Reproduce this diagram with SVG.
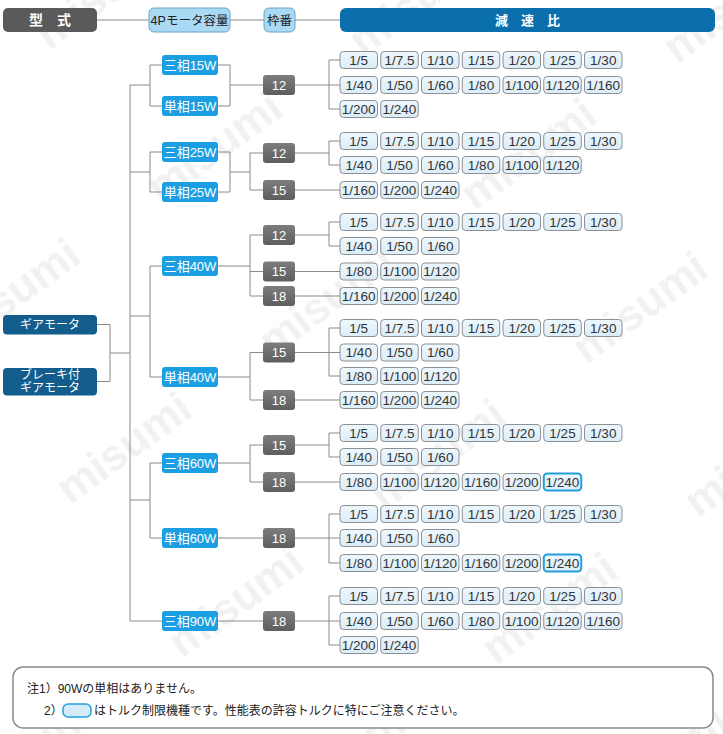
<svg xmlns="http://www.w3.org/2000/svg" width="723" height="734" viewBox="0 0 723 734">
<style>
text{font-family:"Liberation Sans","Noto Sans CJK JP",sans-serif}
.ln{fill:none;stroke:#8a8a8a;stroke-width:1}
.rb{fill:url(#gr);stroke:#8c9094;stroke-width:1}
.hl{fill:url(#gr);stroke:#22a0dc;stroke-width:2}
.rt{font-size:13.5px;fill:#333;text-anchor:middle}
.mb{fill:#1b9fe2}
.mt{font-size:13px;fill:#fff;text-anchor:middle}
.fb{fill:url(#gf)}
.ft{font-size:13px;fill:#fff;text-anchor:middle}
.lb{fill:#125d8c}
.lt{font-size:12px;fill:#fff;text-anchor:middle}
.hb{fill:#aad9f3;stroke:#6aa6c6;stroke-width:1}
.ht{font-size:12.5px;fill:#222;text-anchor:middle}
.nt{font-size:12px;fill:#222}
</style>
<defs>
<linearGradient id="gr" x1="0" y1="0" x2="0" y2="1"><stop offset="0" stop-color="#eef7fd"/><stop offset="1" stop-color="#dbedf8"/></linearGradient>
<linearGradient id="gf" x1="0" y1="0" x2="0" y2="1"><stop offset="0" stop-color="#7d7d7d"/><stop offset="1" stop-color="#5e5e5e"/></linearGradient>
<pattern id="wm" width="250" height="190" patternUnits="userSpaceOnUse" patternTransform="rotate(-36)">
<text x="10" y="70" font-size="44" font-weight="bold" fill="#000" fill-opacity="0.055">misumi</text>
</pattern>
</defs>
<rect width="723" height="734" fill="#fff"/>
<rect width="723" height="734" fill="url(#wm)"/>

<g id="connectors">
<path class="ln" d="M97,20H149M230,20H264M295,20H340"/>
<path class="ln" d="M97,324.5H110M97,381.5H110M110,324.5V381.5M110,353H130M130,85V621"/>
<path class="ln" d="M130,85H150M150,65V106M150,65H162M150,106H162M218,65H230M218,106H230M230,65V106M230,85H263M295,85H329M329,60V109M329,60H340M329,85H340M329,109H340"/>
<path class="ln" d="M130,172H150M150,152V192M150,152H162M150,192H162M218,152H230M218,192H230M230,152V192M230,172H250M250,153V190M250,153H263M250,190H263M295,153H329M329,141V165M329,141H340M329,165H340M295,190H340"/>
<path class="ln" d="M130,316H150M150,266V377M150,266H162M150,377H162"/>
<path class="ln" d="M218,266H250M250,235V296M250,235H263M250,271.5H263M250,296H263M295,235H329M329,222V246M329,222H340M329,246H340M295,271.5H340M295,296H340"/>
<path class="ln" d="M218,377H250M250,352.5V400M250,352.5H263M250,400H263M295,352.5H329M329,328V376M329,328H340M329,352.5H340M329,376H340M295,400H340"/>
<path class="ln" d="M130,500H150M150,463V538M150,463H162M150,538H162"/>
<path class="ln" d="M218,463H250M250,445V482M250,445H263M250,482H263M295,445H329M329,433V457M329,433H340M329,457H340M295,482H340"/>
<path class="ln" d="M218,538H263M295,538H329M329,514V563M329,514H340M329,538H340M329,563H340"/>
<path class="ln" d="M130,621H162M218,621H263M295,621H329M329,596V645M329,596H340M329,621H340M329,645H340"/>
</g>

<g id="h-type"><rect x="3" y="8" width="94" height="24" rx="5" fill="#5a5a5a"/><text x="50" y="25" font-size="14" font-weight="bold" fill="#fff" text-anchor="middle">型　式</text></g>
<g id="h-cap"><rect class="hb" x="149" y="8" width="81" height="24" rx="5"/><text class="ht" x="189.5" y="24.5">4Pモータ容量</text></g>
<g id="h-frame"><rect class="hb" x="264" y="8" width="31" height="24" rx="5"/><text class="ht" x="279.5" y="24.5">枠番</text></g>
<g id="h-ratio"><rect x="340" y="8" width="375" height="24" rx="6" fill="#0b6fae"/><text x="527.5" y="25" font-size="13" font-weight="bold" fill="#fff" text-anchor="middle">減　速　比</text></g>

<g id="gear"><rect class="lb" x="3" y="315" width="94" height="19.5" rx="4"/><text class="lt" x="50" y="329">ギアモータ</text></g>
<g id="brake"><rect class="lb" x="3" y="368" width="94" height="27.5" rx="4"/><text class="lt" x="50" y="379">ブレーキ付</text><text class="lt" x="50" y="392">ギアモータ</text></g>

<g id="m-3-15"><rect class="mb" x="162" y="55" width="56" height="20" rx="3"/><text class="mt" x="190" y="69.5">三相15W</text></g>
<g id="m-1-15"><rect class="mb" x="162" y="96" width="56" height="20" rx="3"/><text class="mt" x="190" y="110.5">単相15W</text></g>
<g id="m-3-25"><rect class="mb" x="162" y="142" width="56" height="20" rx="3"/><text class="mt" x="190" y="156.5">三相25W</text></g>
<g id="m-1-25"><rect class="mb" x="162" y="182" width="56" height="20" rx="3"/><text class="mt" x="190" y="196.5">単相25W</text></g>
<g id="m-3-40"><rect class="mb" x="162" y="256" width="56" height="20" rx="3"/><text class="mt" x="190" y="270.5">三相40W</text></g>
<g id="m-1-40"><rect class="mb" x="162" y="367" width="56" height="20" rx="3"/><text class="mt" x="190" y="381.5">単相40W</text></g>
<g id="m-3-60"><rect class="mb" x="162" y="453" width="56" height="20" rx="3"/><text class="mt" x="190" y="467.5">三相60W</text></g>
<g id="m-1-60"><rect class="mb" x="162" y="528" width="56" height="20" rx="3"/><text class="mt" x="190" y="542.5">単相60W</text></g>
<g id="m-3-90"><rect class="mb" x="162" y="611" width="56" height="20" rx="3"/><text class="mt" x="190" y="625.5">三相90W</text></g>

<g id="f-15-12"><rect class="fb" x="263" y="75" width="32" height="20" rx="3"/><text class="ft" x="279" y="89.5">12</text></g>
<g id="f-25-12"><rect class="fb" x="263" y="143" width="32" height="20" rx="3"/><text class="ft" x="279" y="157.5">12</text></g>
<g id="f-25-15"><rect class="fb" x="263" y="180" width="32" height="20" rx="3"/><text class="ft" x="279" y="194.5">15</text></g>
<g id="f-340-12"><rect class="fb" x="263" y="225" width="32" height="20" rx="3"/><text class="ft" x="279" y="239.5">12</text></g>
<g id="f-340-15"><rect class="fb" x="263" y="261.5" width="32" height="20" rx="3"/><text class="ft" x="279" y="276">15</text></g>
<g id="f-340-18"><rect class="fb" x="263" y="286" width="32" height="20" rx="3"/><text class="ft" x="279" y="300.5">18</text></g>
<g id="f-140-15"><rect class="fb" x="263" y="342.5" width="32" height="20" rx="3"/><text class="ft" x="279" y="357">15</text></g>
<g id="f-140-18"><rect class="fb" x="263" y="390" width="32" height="20" rx="3"/><text class="ft" x="279" y="404.5">18</text></g>
<g id="f-360-15"><rect class="fb" x="263" y="435" width="32" height="20" rx="3"/><text class="ft" x="279" y="449.5">15</text></g>
<g id="f-360-18"><rect class="fb" x="263" y="472" width="32" height="20" rx="3"/><text class="ft" x="279" y="486.5">18</text></g>
<g id="f-160-18"><rect class="fb" x="263" y="528" width="32" height="20" rx="3"/><text class="ft" x="279" y="542.5">18</text></g>
<g id="f-390-18"><rect class="fb" x="263" y="611" width="32" height="20" rx="3"/><text class="ft" x="279" y="625.5">18</text></g>

<g id="r1-1" transform="translate(340,51.5)"><rect class="rb" width="37.5" height="17" rx="3.5"/><text class="rt" x="18.75" y="13.2">1/5</text></g>
<g id="r1-2" transform="translate(380.75,51.5)"><rect class="rb" width="37.5" height="17" rx="3.5"/><text class="rt" x="18.75" y="13.2">1/7.5</text></g>
<g id="r1-3" transform="translate(421.5,51.5)"><rect class="rb" width="37.5" height="17" rx="3.5"/><text class="rt" x="18.75" y="13.2">1/10</text></g>
<g id="r1-4" transform="translate(462.25,51.5)"><rect class="rb" width="37.5" height="17" rx="3.5"/><text class="rt" x="18.75" y="13.2">1/15</text></g>
<g id="r1-5" transform="translate(503,51.5)"><rect class="rb" width="37.5" height="17" rx="3.5"/><text class="rt" x="18.75" y="13.2">1/20</text></g>
<g id="r1-6" transform="translate(543.75,51.5)"><rect class="rb" width="37.5" height="17" rx="3.5"/><text class="rt" x="18.75" y="13.2">1/25</text></g>
<g id="r1-7" transform="translate(584.5,51.5)"><rect class="rb" width="37.5" height="17" rx="3.5"/><text class="rt" x="18.75" y="13.2">1/30</text></g>

<g id="r2-1" transform="translate(340,76.5)"><rect class="rb" width="37.5" height="17" rx="3.5"/><text class="rt" x="18.75" y="13.2">1/40</text></g>
<g id="r2-2" transform="translate(380.75,76.5)"><rect class="rb" width="37.5" height="17" rx="3.5"/><text class="rt" x="18.75" y="13.2">1/50</text></g>
<g id="r2-3" transform="translate(421.5,76.5)"><rect class="rb" width="37.5" height="17" rx="3.5"/><text class="rt" x="18.75" y="13.2">1/60</text></g>
<g id="r2-4" transform="translate(462.25,76.5)"><rect class="rb" width="37.5" height="17" rx="3.5"/><text class="rt" x="18.75" y="13.2">1/80</text></g>
<g id="r2-5" transform="translate(503,76.5)"><rect class="rb" width="37.5" height="17" rx="3.5"/><text class="rt" x="18.75" y="13.2">1/100</text></g>
<g id="r2-6" transform="translate(543.75,76.5)"><rect class="rb" width="37.5" height="17" rx="3.5"/><text class="rt" x="18.75" y="13.2">1/120</text></g>
<g id="r2-7" transform="translate(584.5,76.5)"><rect class="rb" width="37.5" height="17" rx="3.5"/><text class="rt" x="18.75" y="13.2">1/160</text></g>

<g id="r3-1" transform="translate(340,100.5)"><rect class="rb" width="37.5" height="17" rx="3.5"/><text class="rt" x="18.75" y="13.2">1/200</text></g>
<g id="r3-2" transform="translate(380.75,100.5)"><rect class="rb" width="37.5" height="17" rx="3.5"/><text class="rt" x="18.75" y="13.2">1/240</text></g>

<g id="r4-1" transform="translate(340,132.5)"><rect class="rb" width="37.5" height="17" rx="3.5"/><text class="rt" x="18.75" y="13.2">1/5</text></g>
<g id="r4-2" transform="translate(380.75,132.5)"><rect class="rb" width="37.5" height="17" rx="3.5"/><text class="rt" x="18.75" y="13.2">1/7.5</text></g>
<g id="r4-3" transform="translate(421.5,132.5)"><rect class="rb" width="37.5" height="17" rx="3.5"/><text class="rt" x="18.75" y="13.2">1/10</text></g>
<g id="r4-4" transform="translate(462.25,132.5)"><rect class="rb" width="37.5" height="17" rx="3.5"/><text class="rt" x="18.75" y="13.2">1/15</text></g>
<g id="r4-5" transform="translate(503,132.5)"><rect class="rb" width="37.5" height="17" rx="3.5"/><text class="rt" x="18.75" y="13.2">1/20</text></g>
<g id="r4-6" transform="translate(543.75,132.5)"><rect class="rb" width="37.5" height="17" rx="3.5"/><text class="rt" x="18.75" y="13.2">1/25</text></g>
<g id="r4-7" transform="translate(584.5,132.5)"><rect class="rb" width="37.5" height="17" rx="3.5"/><text class="rt" x="18.75" y="13.2">1/30</text></g>

<g id="r5-1" transform="translate(340,156.5)"><rect class="rb" width="37.5" height="17" rx="3.5"/><text class="rt" x="18.75" y="13.2">1/40</text></g>
<g id="r5-2" transform="translate(380.75,156.5)"><rect class="rb" width="37.5" height="17" rx="3.5"/><text class="rt" x="18.75" y="13.2">1/50</text></g>
<g id="r5-3" transform="translate(421.5,156.5)"><rect class="rb" width="37.5" height="17" rx="3.5"/><text class="rt" x="18.75" y="13.2">1/60</text></g>
<g id="r5-4" transform="translate(462.25,156.5)"><rect class="rb" width="37.5" height="17" rx="3.5"/><text class="rt" x="18.75" y="13.2">1/80</text></g>
<g id="r5-5" transform="translate(503,156.5)"><rect class="rb" width="37.5" height="17" rx="3.5"/><text class="rt" x="18.75" y="13.2">1/100</text></g>
<g id="r5-6" transform="translate(543.75,156.5)"><rect class="rb" width="37.5" height="17" rx="3.5"/><text class="rt" x="18.75" y="13.2">1/120</text></g>

<g id="r6-1" transform="translate(340,181.5)"><rect class="rb" width="37.5" height="17" rx="3.5"/><text class="rt" x="18.75" y="13.2">1/160</text></g>
<g id="r6-2" transform="translate(380.75,181.5)"><rect class="rb" width="37.5" height="17" rx="3.5"/><text class="rt" x="18.75" y="13.2">1/200</text></g>
<g id="r6-3" transform="translate(421.5,181.5)"><rect class="rb" width="37.5" height="17" rx="3.5"/><text class="rt" x="18.75" y="13.2">1/240</text></g>

<g id="r7-1" transform="translate(340,213.5)"><rect class="rb" width="37.5" height="17" rx="3.5"/><text class="rt" x="18.75" y="13.2">1/5</text></g>
<g id="r7-2" transform="translate(380.75,213.5)"><rect class="rb" width="37.5" height="17" rx="3.5"/><text class="rt" x="18.75" y="13.2">1/7.5</text></g>
<g id="r7-3" transform="translate(421.5,213.5)"><rect class="rb" width="37.5" height="17" rx="3.5"/><text class="rt" x="18.75" y="13.2">1/10</text></g>
<g id="r7-4" transform="translate(462.25,213.5)"><rect class="rb" width="37.5" height="17" rx="3.5"/><text class="rt" x="18.75" y="13.2">1/15</text></g>
<g id="r7-5" transform="translate(503,213.5)"><rect class="rb" width="37.5" height="17" rx="3.5"/><text class="rt" x="18.75" y="13.2">1/20</text></g>
<g id="r7-6" transform="translate(543.75,213.5)"><rect class="rb" width="37.5" height="17" rx="3.5"/><text class="rt" x="18.75" y="13.2">1/25</text></g>
<g id="r7-7" transform="translate(584.5,213.5)"><rect class="rb" width="37.5" height="17" rx="3.5"/><text class="rt" x="18.75" y="13.2">1/30</text></g>

<g id="r8-1" transform="translate(340,237.5)"><rect class="rb" width="37.5" height="17" rx="3.5"/><text class="rt" x="18.75" y="13.2">1/40</text></g>
<g id="r8-2" transform="translate(380.75,237.5)"><rect class="rb" width="37.5" height="17" rx="3.5"/><text class="rt" x="18.75" y="13.2">1/50</text></g>
<g id="r8-3" transform="translate(421.5,237.5)"><rect class="rb" width="37.5" height="17" rx="3.5"/><text class="rt" x="18.75" y="13.2">1/60</text></g>

<g id="r9-1" transform="translate(340,263)"><rect class="rb" width="37.5" height="17" rx="3.5"/><text class="rt" x="18.75" y="13.2">1/80</text></g>
<g id="r9-2" transform="translate(380.75,263)"><rect class="rb" width="37.5" height="17" rx="3.5"/><text class="rt" x="18.75" y="13.2">1/100</text></g>
<g id="r9-3" transform="translate(421.5,263)"><rect class="rb" width="37.5" height="17" rx="3.5"/><text class="rt" x="18.75" y="13.2">1/120</text></g>

<g id="r10-1" transform="translate(340,287.5)"><rect class="rb" width="37.5" height="17" rx="3.5"/><text class="rt" x="18.75" y="13.2">1/160</text></g>
<g id="r10-2" transform="translate(380.75,287.5)"><rect class="rb" width="37.5" height="17" rx="3.5"/><text class="rt" x="18.75" y="13.2">1/200</text></g>
<g id="r10-3" transform="translate(421.5,287.5)"><rect class="rb" width="37.5" height="17" rx="3.5"/><text class="rt" x="18.75" y="13.2">1/240</text></g>

<g id="r11-1" transform="translate(340,319.5)"><rect class="rb" width="37.5" height="17" rx="3.5"/><text class="rt" x="18.75" y="13.2">1/5</text></g>
<g id="r11-2" transform="translate(380.75,319.5)"><rect class="rb" width="37.5" height="17" rx="3.5"/><text class="rt" x="18.75" y="13.2">1/7.5</text></g>
<g id="r11-3" transform="translate(421.5,319.5)"><rect class="rb" width="37.5" height="17" rx="3.5"/><text class="rt" x="18.75" y="13.2">1/10</text></g>
<g id="r11-4" transform="translate(462.25,319.5)"><rect class="rb" width="37.5" height="17" rx="3.5"/><text class="rt" x="18.75" y="13.2">1/15</text></g>
<g id="r11-5" transform="translate(503,319.5)"><rect class="rb" width="37.5" height="17" rx="3.5"/><text class="rt" x="18.75" y="13.2">1/20</text></g>
<g id="r11-6" transform="translate(543.75,319.5)"><rect class="rb" width="37.5" height="17" rx="3.5"/><text class="rt" x="18.75" y="13.2">1/25</text></g>
<g id="r11-7" transform="translate(584.5,319.5)"><rect class="rb" width="37.5" height="17" rx="3.5"/><text class="rt" x="18.75" y="13.2">1/30</text></g>

<g id="r12-1" transform="translate(340,344)"><rect class="rb" width="37.5" height="17" rx="3.5"/><text class="rt" x="18.75" y="13.2">1/40</text></g>
<g id="r12-2" transform="translate(380.75,344)"><rect class="rb" width="37.5" height="17" rx="3.5"/><text class="rt" x="18.75" y="13.2">1/50</text></g>
<g id="r12-3" transform="translate(421.5,344)"><rect class="rb" width="37.5" height="17" rx="3.5"/><text class="rt" x="18.75" y="13.2">1/60</text></g>

<g id="r13-1" transform="translate(340,367.5)"><rect class="rb" width="37.5" height="17" rx="3.5"/><text class="rt" x="18.75" y="13.2">1/80</text></g>
<g id="r13-2" transform="translate(380.75,367.5)"><rect class="rb" width="37.5" height="17" rx="3.5"/><text class="rt" x="18.75" y="13.2">1/100</text></g>
<g id="r13-3" transform="translate(421.5,367.5)"><rect class="rb" width="37.5" height="17" rx="3.5"/><text class="rt" x="18.75" y="13.2">1/120</text></g>

<g id="r14-1" transform="translate(340,391.5)"><rect class="rb" width="37.5" height="17" rx="3.5"/><text class="rt" x="18.75" y="13.2">1/160</text></g>
<g id="r14-2" transform="translate(380.75,391.5)"><rect class="rb" width="37.5" height="17" rx="3.5"/><text class="rt" x="18.75" y="13.2">1/200</text></g>
<g id="r14-3" transform="translate(421.5,391.5)"><rect class="rb" width="37.5" height="17" rx="3.5"/><text class="rt" x="18.75" y="13.2">1/240</text></g>

<g id="r15-1" transform="translate(340,424.5)"><rect class="rb" width="37.5" height="17" rx="3.5"/><text class="rt" x="18.75" y="13.2">1/5</text></g>
<g id="r15-2" transform="translate(380.75,424.5)"><rect class="rb" width="37.5" height="17" rx="3.5"/><text class="rt" x="18.75" y="13.2">1/7.5</text></g>
<g id="r15-3" transform="translate(421.5,424.5)"><rect class="rb" width="37.5" height="17" rx="3.5"/><text class="rt" x="18.75" y="13.2">1/10</text></g>
<g id="r15-4" transform="translate(462.25,424.5)"><rect class="rb" width="37.5" height="17" rx="3.5"/><text class="rt" x="18.75" y="13.2">1/15</text></g>
<g id="r15-5" transform="translate(503,424.5)"><rect class="rb" width="37.5" height="17" rx="3.5"/><text class="rt" x="18.75" y="13.2">1/20</text></g>
<g id="r15-6" transform="translate(543.75,424.5)"><rect class="rb" width="37.5" height="17" rx="3.5"/><text class="rt" x="18.75" y="13.2">1/25</text></g>
<g id="r15-7" transform="translate(584.5,424.5)"><rect class="rb" width="37.5" height="17" rx="3.5"/><text class="rt" x="18.75" y="13.2">1/30</text></g>

<g id="r16-1" transform="translate(340,448.5)"><rect class="rb" width="37.5" height="17" rx="3.5"/><text class="rt" x="18.75" y="13.2">1/40</text></g>
<g id="r16-2" transform="translate(380.75,448.5)"><rect class="rb" width="37.5" height="17" rx="3.5"/><text class="rt" x="18.75" y="13.2">1/50</text></g>
<g id="r16-3" transform="translate(421.5,448.5)"><rect class="rb" width="37.5" height="17" rx="3.5"/><text class="rt" x="18.75" y="13.2">1/60</text></g>

<g id="r17-1" transform="translate(340,473.5)"><rect class="rb" width="37.5" height="17" rx="3.5"/><text class="rt" x="18.75" y="13.2">1/80</text></g>
<g id="r17-2" transform="translate(380.75,473.5)"><rect class="rb" width="37.5" height="17" rx="3.5"/><text class="rt" x="18.75" y="13.2">1/100</text></g>
<g id="r17-3" transform="translate(421.5,473.5)"><rect class="rb" width="37.5" height="17" rx="3.5"/><text class="rt" x="18.75" y="13.2">1/120</text></g>
<g id="r17-4" transform="translate(462.25,473.5)"><rect class="rb" width="37.5" height="17" rx="3.5"/><text class="rt" x="18.75" y="13.2">1/160</text></g>
<g id="r17-5" transform="translate(503,473.5)"><rect class="rb" width="37.5" height="17" rx="3.5"/><text class="rt" x="18.75" y="13.2">1/200</text></g>
<g id="r17-6" transform="translate(543.75,473.5)"><rect class="hl" width="37.5" height="17" rx="3.5"/><text class="rt" x="18.75" y="13.2">1/240</text></g>

<g id="r18-1" transform="translate(340,505.5)"><rect class="rb" width="37.5" height="17" rx="3.5"/><text class="rt" x="18.75" y="13.2">1/5</text></g>
<g id="r18-2" transform="translate(380.75,505.5)"><rect class="rb" width="37.5" height="17" rx="3.5"/><text class="rt" x="18.75" y="13.2">1/7.5</text></g>
<g id="r18-3" transform="translate(421.5,505.5)"><rect class="rb" width="37.5" height="17" rx="3.5"/><text class="rt" x="18.75" y="13.2">1/10</text></g>
<g id="r18-4" transform="translate(462.25,505.5)"><rect class="rb" width="37.5" height="17" rx="3.5"/><text class="rt" x="18.75" y="13.2">1/15</text></g>
<g id="r18-5" transform="translate(503,505.5)"><rect class="rb" width="37.5" height="17" rx="3.5"/><text class="rt" x="18.75" y="13.2">1/20</text></g>
<g id="r18-6" transform="translate(543.75,505.5)"><rect class="rb" width="37.5" height="17" rx="3.5"/><text class="rt" x="18.75" y="13.2">1/25</text></g>
<g id="r18-7" transform="translate(584.5,505.5)"><rect class="rb" width="37.5" height="17" rx="3.5"/><text class="rt" x="18.75" y="13.2">1/30</text></g>

<g id="r19-1" transform="translate(340,529.5)"><rect class="rb" width="37.5" height="17" rx="3.5"/><text class="rt" x="18.75" y="13.2">1/40</text></g>
<g id="r19-2" transform="translate(380.75,529.5)"><rect class="rb" width="37.5" height="17" rx="3.5"/><text class="rt" x="18.75" y="13.2">1/50</text></g>
<g id="r19-3" transform="translate(421.5,529.5)"><rect class="rb" width="37.5" height="17" rx="3.5"/><text class="rt" x="18.75" y="13.2">1/60</text></g>

<g id="r20-1" transform="translate(340,554.5)"><rect class="rb" width="37.5" height="17" rx="3.5"/><text class="rt" x="18.75" y="13.2">1/80</text></g>
<g id="r20-2" transform="translate(380.75,554.5)"><rect class="rb" width="37.5" height="17" rx="3.5"/><text class="rt" x="18.75" y="13.2">1/100</text></g>
<g id="r20-3" transform="translate(421.5,554.5)"><rect class="rb" width="37.5" height="17" rx="3.5"/><text class="rt" x="18.75" y="13.2">1/120</text></g>
<g id="r20-4" transform="translate(462.25,554.5)"><rect class="rb" width="37.5" height="17" rx="3.5"/><text class="rt" x="18.75" y="13.2">1/160</text></g>
<g id="r20-5" transform="translate(503,554.5)"><rect class="rb" width="37.5" height="17" rx="3.5"/><text class="rt" x="18.75" y="13.2">1/200</text></g>
<g id="r20-6" transform="translate(543.75,554.5)"><rect class="hl" width="37.5" height="17" rx="3.5"/><text class="rt" x="18.75" y="13.2">1/240</text></g>

<g id="r21-1" transform="translate(340,587.5)"><rect class="rb" width="37.5" height="17" rx="3.5"/><text class="rt" x="18.75" y="13.2">1/5</text></g>
<g id="r21-2" transform="translate(380.75,587.5)"><rect class="rb" width="37.5" height="17" rx="3.5"/><text class="rt" x="18.75" y="13.2">1/7.5</text></g>
<g id="r21-3" transform="translate(421.5,587.5)"><rect class="rb" width="37.5" height="17" rx="3.5"/><text class="rt" x="18.75" y="13.2">1/10</text></g>
<g id="r21-4" transform="translate(462.25,587.5)"><rect class="rb" width="37.5" height="17" rx="3.5"/><text class="rt" x="18.75" y="13.2">1/15</text></g>
<g id="r21-5" transform="translate(503,587.5)"><rect class="rb" width="37.5" height="17" rx="3.5"/><text class="rt" x="18.75" y="13.2">1/20</text></g>
<g id="r21-6" transform="translate(543.75,587.5)"><rect class="rb" width="37.5" height="17" rx="3.5"/><text class="rt" x="18.75" y="13.2">1/25</text></g>
<g id="r21-7" transform="translate(584.5,587.5)"><rect class="rb" width="37.5" height="17" rx="3.5"/><text class="rt" x="18.75" y="13.2">1/30</text></g>

<g id="r22-1" transform="translate(340,612.5)"><rect class="rb" width="37.5" height="17" rx="3.5"/><text class="rt" x="18.75" y="13.2">1/40</text></g>
<g id="r22-2" transform="translate(380.75,612.5)"><rect class="rb" width="37.5" height="17" rx="3.5"/><text class="rt" x="18.75" y="13.2">1/50</text></g>
<g id="r22-3" transform="translate(421.5,612.5)"><rect class="rb" width="37.5" height="17" rx="3.5"/><text class="rt" x="18.75" y="13.2">1/60</text></g>
<g id="r22-4" transform="translate(462.25,612.5)"><rect class="rb" width="37.5" height="17" rx="3.5"/><text class="rt" x="18.75" y="13.2">1/80</text></g>
<g id="r22-5" transform="translate(503,612.5)"><rect class="rb" width="37.5" height="17" rx="3.5"/><text class="rt" x="18.75" y="13.2">1/100</text></g>
<g id="r22-6" transform="translate(543.75,612.5)"><rect class="rb" width="37.5" height="17" rx="3.5"/><text class="rt" x="18.75" y="13.2">1/120</text></g>
<g id="r22-7" transform="translate(584.5,612.5)"><rect class="rb" width="37.5" height="17" rx="3.5"/><text class="rt" x="18.75" y="13.2">1/160</text></g>

<g id="r23-1" transform="translate(340,636.5)"><rect class="rb" width="37.5" height="17" rx="3.5"/><text class="rt" x="18.75" y="13.2">1/200</text></g>
<g id="r23-2" transform="translate(380.75,636.5)"><rect class="rb" width="37.5" height="17" rx="3.5"/><text class="rt" x="18.75" y="13.2">1/240</text></g>

<g id="notes">
<rect x="13" y="667" width="700" height="61" rx="10" fill="#fff" stroke="#8a8a8a" stroke-width="1.5"/>
<text class="nt" x="27" y="693">注1）90Wの単相はありません。</text>
<text class="nt" x="44" y="715">2）</text>
<rect x="63" y="704" width="28" height="13" rx="5" fill="#d5ebf8" stroke="#22a0dc" stroke-width="1.5"/>
<text class="nt" x="94" y="715">はトルク制限機種です。性能表の許容トルクに特にご注意ください。</text>
</g>
</svg>
